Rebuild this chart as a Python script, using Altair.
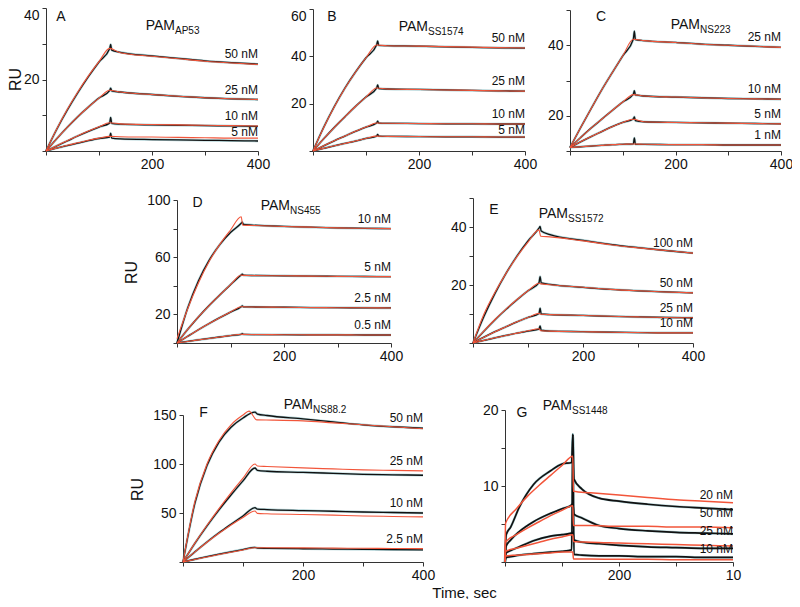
import altair as alt
import pandas as pd

# ---------------- time grids (s) ----------------
T_BLK = [0, 20, 40, 60, 80, 100, 120, 122, 124, 140, 200, 250, 300, 350, 400]
T_FIT = [0, 20, 40, 60, 80, 100, 120, 140, 200, 250, 300, 350, 400]
T_FIT_DE = [0, 20, 40, 60, 80, 100, 120, 123, 140, 200, 250, 300, 350, 400]
T_BLK_F = [0, 20, 40, 60, 80, 100, 120, 124, 140, 200, 250, 300, 350, 400]
T_FIT_F = [0, 20, 40, 60, 80, 100, 120, 124, 140, 200, 250, 300, 350, 400]
T_FIT_F50 = [0, 20, 40, 60, 80, 100, 110, 123, 150, 200, 250, 300, 350, 400]
T_BLK_G = [0, 2, 10, 25, 50, 80, 100, 117, 119, 121, 135, 165, 200, 250, 300, 350, 400]
T_FIT_G = [0, 1, 20, 40, 60, 80, 100, 119, 120, 150, 200, 250, 300, 350, 400]

# ---------------- Panel A: PAM AP53 ----------------
A_50_BLK = [0, 6.0, 11.4, 16.3, 20.8, 24.9, 28.6, 29.8, 28.2, 27.6, 26.6, 25.9, 25.2, 24.7, 24.3]
A_50_FIT = [0, 6.1, 11.6, 16.5, 21.0, 25.0, 28.7, 27.5, 26.5, 25.8, 25.1, 24.6, 24.2]
A_25_BLK = [0, 3.4, 6.6, 9.6, 12.3, 14.8, 16.9, 17.6, 16.8, 16.5, 15.8, 15.3, 14.9, 14.6, 14.4]
A_25_FIT = [0, 3.4, 6.6, 9.6, 12.3, 14.8, 17.0, 16.5, 15.8, 15.3, 14.9, 14.6, 14.4]
A_10_BLK = [0, 1.4, 2.8, 4.2, 5.5, 6.7, 7.8, 9.4, 7.7, 7.5, 7.3, 7.2, 7.1, 7.0, 6.9]
A_10_FIT = [0, 1.5, 2.9, 4.3, 5.6, 6.8, 7.9, 7.6, 7.4, 7.3, 7.2, 7.1, 7.0]
A_5_BLK = [0, 0.8, 1.5, 2.2, 2.9, 3.5, 3.9, 5.0, 3.6, 3.4, 3.2, 3.1, 3.0, 2.9, 2.8]
A_5_FIT = [0, 0.8, 1.6, 2.3, 3.0, 3.6, 4.1, 4.0, 3.9, 3.8, 3.7, 3.6, 3.6]

# ---------------- Panel B: PAM SS1574 ----------------
B_50_BLK = [0, 9.9, 18.7, 26.5, 33.3, 39.4, 44.8, 46.5, 44.6, 44.5, 44.3, 44.0, 43.8, 43.6, 43.5]
B_50_FIT = [0, 9.8, 18.6, 26.4, 33.3, 39.4, 44.8, 44.5, 44.3, 44.1, 43.9, 43.7, 43.5]
B_25_BLK = [0, 5.1, 9.9, 14.4, 18.8, 22.8, 26.6, 27.9, 26.4, 26.2, 26.0, 25.8, 25.6, 25.4, 25.3]
B_25_FIT = [0, 5.1, 9.9, 14.4, 18.8, 22.8, 26.6, 26.2, 26.0, 25.8, 25.6, 25.4, 25.3]
B_10_BLK = [0, 2.2, 4.3, 6.3, 8.3, 10.1, 11.8, 12.6, 11.8, 11.7, 11.6, 11.5, 11.5, 11.4, 11.4]
B_10_FIT = [0, 2.2, 4.3, 6.3, 8.3, 10.1, 11.8, 11.7, 11.6, 11.5, 11.5, 11.4, 11.4]
B_5_BLK = [0, 1.1, 2.2, 3.2, 4.2, 5.3, 6.3, 7.0, 6.3, 6.2, 6.1, 6.0, 6.0, 5.9, 5.9]
B_5_FIT = [0, 1.1, 2.2, 3.2, 4.2, 5.3, 6.3, 6.2, 6.1, 6.0, 6.0, 5.9, 5.9]

# ---------------- Panel C: PAM NS223 ----------------
C_25_BLK = [11, 16.6, 22.0, 27.3, 32.2, 37.0, 41.7, 44.0, 41.6, 41.3, 40.8, 40.3, 40.0, 39.7, 39.4]
C_25_FIT = [11, 16.6, 22.0, 27.3, 32.2, 37.0, 41.7, 41.3, 40.8, 40.3, 40.0, 39.7, 39.4]
C_10_BLK = [11, 13.8, 16.5, 19.0, 21.5, 23.9, 26.1, 27.1, 25.9, 25.6, 25.3, 25.1, 24.9, 24.8, 24.7]
C_10_FIT = [11, 13.8, 16.5, 19.0, 21.5, 23.9, 26.0, 25.6, 25.3, 25.1, 24.9, 24.8, 24.7]
C_5_BLK = [11, 12.6, 14.1, 15.5, 16.9, 18.1, 19.1, 19.7, 18.6, 18.3, 18.1, 18.0, 17.9, 17.8, 17.7]
C_5_FIT = [11, 12.6, 14.1, 15.5, 16.9, 18.1, 19.0, 18.3, 18.1, 18.0, 17.9, 17.8, 17.7]
C_1_BLK = [11, 11.2, 11.4, 11.6, 11.8, 11.9, 12.0, 13.7, 11.9, 11.9, 11.8, 11.8, 11.7, 11.7, 11.7]
C_1_FIT = [11, 11.2, 11.4, 11.6, 11.8, 11.9, 12.0, 11.9, 11.8, 11.8, 11.7, 11.7, 11.7]

# ---------------- Panel D: PAM NS455 ----------------
D_10_BLK = [0, 24.5, 43.4, 57.8, 68.8, 77.3, 83.7, 84.5, 83.0, 82.5, 81.5, 81.0, 80.5, 80.2, 80.0]
D_10_FIT = [3, 24, 42, 57, 69, 79, 88.3, 82.3, 82.2, 81.5, 81.0, 80.5, 80.2, 80.0]
D_5_BLK = [0, 9.5, 18.2, 26.2, 33.6, 40.8, 47.6, 48.2, 47.4, 47.2, 47.0, 46.8, 46.6, 46.5, 46.4]
D_5_FIT = [0, 9.5, 18.2, 26.2, 33.6, 40.8, 47.6, 47.3, 47.2, 47.0, 46.8, 46.6, 46.5, 46.4]
D_25_BLK = [0, 4.7, 9.3, 13.6, 17.7, 21.6, 25.4, 26.0, 25.3, 25.2, 25.0, 24.8, 24.7, 24.6, 24.5]
D_25_FIT = [0, 4.7, 9.3, 13.6, 17.7, 21.6, 25.4, 25.3, 25.2, 25.0, 24.8, 24.7, 24.6, 24.5]
D_05_BLK = [0, 1.1, 2.2, 3.2, 4.2, 5.2, 6.1, 6.6, 6.0, 5.9, 5.8, 5.7, 5.7, 5.6, 5.6]
D_05_FIT = [0, 1.1, 2.2, 3.2, 4.2, 5.2, 6.1, 6.0, 5.9, 5.8, 5.7, 5.7, 5.6, 5.6]

# ---------------- Panel E: PAM SS1572 ----------------
E_100_BLK = [0, 9.2, 17.1, 24.0, 30.0, 35.2, 39.6, 40.2, 38.6, 37.4, 35.4, 34.0, 32.9, 31.9, 31.0]
E_100_FIT = [0, 10.0, 17.5, 24.0, 29.8, 34.8, 39.0, 36.8, 36.6, 35.2, 33.9, 32.8, 31.9, 31.0]
E_50_BLK = [0, 4.1, 8.0, 11.6, 14.9, 18.0, 20.8, 22.9, 20.7, 20.2, 19.2, 18.5, 18.0, 17.6, 17.3]
E_50_FIT = [0, 4.2, 8.1, 11.7, 15.0, 18.0, 20.6, 20.4, 20.1, 19.2, 18.5, 18.0, 17.6, 17.3]
E_25_BLK = [0, 2.0, 3.9, 5.6, 7.3, 8.8, 10.2, 12.0, 10.0, 9.8, 9.5, 9.2, 9.0, 8.8, 8.7]
E_25_FIT = [0, 2.0, 3.9, 5.6, 7.3, 8.8, 10.2, 9.9, 9.8, 9.5, 9.2, 9.0, 8.8, 8.7]
E_10_BLK = [0, 0.9, 1.8, 2.6, 3.4, 4.1, 4.8, 5.9, 4.4, 4.1, 3.9, 3.7, 3.6, 3.5, 3.5]
E_10_FIT = [0, 0.9, 1.8, 2.6, 3.4, 4.2, 4.9, 4.2, 4.1, 3.9, 3.7, 3.6, 3.5, 3.5]

# ---------------- Panel F: PAM NS88.2 ----------------
F_50_BLK = [0, 60.4, 98.4, 122.4, 137.5, 147.0, 153.0, 151.0, 149.5, 146.0, 143.0, 140.0, 138.0, 136.5]
F_50_FIT = [0, 62.0, 100.0, 124.0, 140.0, 150.0, 154.0, 145.0, 144.8, 144.0, 142.0, 140.0, 138.0, 136.0]
F_25_BLK = [0, 19.2, 36.8, 53.2, 68.4, 82.8, 95.9, 93.5, 92.6, 91.5, 90.5, 89.5, 89.0, 88.5]
F_25_FIT = [0, 19.5, 37.5, 54.5, 70.5, 85.5, 100.0, 98.0, 97.5, 96.0, 95.0, 94.0, 93.5, 93.0]
F_10_BLK = [0, 10.5, 20.5, 29.8, 38.5, 47.0, 55.4, 54.0, 53.5, 52.5, 51.8, 51.0, 50.5, 50.0]
F_10_FIT = [0, 10.3, 20.1, 29.3, 37.8, 45.5, 52.0, 49.6, 49.2, 48.5, 47.8, 47.0, 46.5, 46.0]
F_25N_BLK = [0, 2.8, 5.5, 8.0, 10.4, 12.7, 14.9, 14.2, 14.0, 13.5, 13.2, 12.9, 12.6, 12.4]
F_25N_FIT = [0, 2.6, 5.1, 7.6, 10.0, 12.3, 14.5, 14.5, 14.5, 14.4, 14.2, 14.0, 13.8, 13.6]

# ---------------- Panel G: PAM SS1448 ----------------
G_20_BLK = [0, 3.6, 4.6, 7.2, 10.2, 12.0, 12.9, 13.1, 16.8, 10.9, 9.6, 8.4, 8.0, 7.6, 7.3, 7.1, 6.9]
G_20_FIT = [0, 5.1, 7.0, 8.7, 10.1, 11.4, 12.7, 13.9, 9.3, 9.1, 8.8, 8.5, 8.2, 8.0, 7.8]
G_50_BLK = [0, 2.1, 2.9, 4.0, 5.3, 6.4, 7.0, 7.5, 7.7, 6.3, 5.8, 4.8, 4.4, 4.1, 3.9, 3.8, 3.7]
G_50_FIT = [0, 2.6, 3.6, 4.5, 5.3, 6.1, 6.8, 7.4, 4.8, 4.8, 4.7, 4.7, 4.6, 4.6, 4.5]
G_25_BLK = [0, 1.2, 1.5, 2.0, 2.8, 3.4, 3.6, 3.8, 3.9, 2.9, 2.6, 2.4, 2.2, 2.0, 1.9, 1.8, 1.8]
G_25_FIT = [0, 1.4, 1.8, 2.2, 2.6, 3.0, 3.3, 3.6, 2.7, 2.6, 2.5, 2.4, 2.3, 2.2, 2.1]
G_10_BLK = [0, 0.6, 0.7, 0.9, 1.1, 1.3, 1.4, 1.6, 16.8, 1.0, 0.9, 0.8, 0.8, 0.7, 0.7, 0.6, 0.6]
G_10_FIT = [0, 0.8, 0.9, 1.0, 1.1, 1.2, 1.3, 1.3, 0.4, 0.4, 0.35, 0.35, 0.3, 0.3, 0.3]

CURVES = {
    "A": [("50 nM", T_BLK, A_50_BLK, T_FIT, A_50_FIT),
          ("25 nM", T_BLK, A_25_BLK, T_FIT, A_25_FIT),
          ("10 nM", T_BLK, A_10_BLK, T_FIT, A_10_FIT),
          ("5 nM", T_BLK, A_5_BLK, T_FIT, A_5_FIT)],
    "B": [("50 nM", T_BLK, B_50_BLK, T_FIT, B_50_FIT),
          ("25 nM", T_BLK, B_25_BLK, T_FIT, B_25_FIT),
          ("10 nM", T_BLK, B_10_BLK, T_FIT, B_10_FIT),
          ("5 nM", T_BLK, B_5_BLK, T_FIT, B_5_FIT)],
    "C": [("25 nM", T_BLK, C_25_BLK, T_FIT, C_25_FIT),
          ("10 nM", T_BLK, C_10_BLK, T_FIT, C_10_FIT),
          ("5 nM", T_BLK, C_5_BLK, T_FIT, C_5_FIT),
          ("1 nM", T_BLK, C_1_BLK, T_FIT, C_1_FIT)],
    "D": [("10 nM", T_BLK, D_10_BLK, T_FIT_DE, D_10_FIT),
          ("5 nM", T_BLK, D_5_BLK, T_FIT_DE, D_5_FIT),
          ("2.5 nM", T_BLK, D_25_BLK, T_FIT_DE, D_25_FIT),
          ("0.5 nM", T_BLK, D_05_BLK, T_FIT_DE, D_05_FIT)],
    "E": [("100 nM", T_BLK, E_100_BLK, T_FIT_DE, E_100_FIT),
          ("50 nM", T_BLK, E_50_BLK, T_FIT_DE, E_50_FIT),
          ("25 nM", T_BLK, E_25_BLK, T_FIT_DE, E_25_FIT),
          ("10 nM", T_BLK, E_10_BLK, T_FIT_DE, E_10_FIT)],
    "F": [("50 nM", T_BLK_F, F_50_BLK, T_FIT_F50, F_50_FIT),
          ("25 nM", T_BLK_F, F_25_BLK, T_FIT_F, F_25_FIT),
          ("10 nM", T_BLK_F, F_10_BLK, T_FIT_F, F_10_FIT),
          ("2.5 nM", T_BLK_F, F_25N_BLK, T_FIT_F, F_25N_FIT)],
    "G": [("20 nM", T_BLK_G, G_20_BLK, T_FIT_G, G_20_FIT),
          ("50 nM", T_BLK_G, G_50_BLK, T_FIT_G, G_50_FIT),
          ("25 nM", T_BLK_G, G_25_BLK, T_FIT_G, G_25_FIT),
          ("10 nM", T_BLK_G, G_10_BLK, T_FIT_G, G_10_FIT)],
}
# label heights (RU at 400 s) where they differ from the curve ends
LABEL_V = {("A", "5 nM"): 2.6, ("B", "5 nM"): 4.6,
           ("G", "20 nM"): 7.5, ("G", "50 nM"): 5.1, ("G", "25 nM"): 2.8, ("G", "10 nM"): 0.4}

# axis ticks / labels
X_TICKS = [0, 100, 200, 300, 400]
Y_TICKS = {"A": [0, 10, 20, 30, 40], "B": [0, 20, 40, 60], "C": [10, 20, 30, 40, 50],
           "D": [0, 20, 40, 60, 80, 100], "E": [0, 10, 20, 30, 40, 50],
           "F": [0, 50, 100, 150], "G": [0, 5, 10, 15, 20]}
Y_LABELS = {"A": [20, 40], "B": [20, 40, 60], "C": [20, 40], "D": [20, 60, 100],
            "E": [20, 40], "F": [50, 100, 150], "G": [10, 20]}
Y_DOMAIN = {"A": [0, 40], "B": [0, 60], "C": [10, 50], "D": [0, 100], "E": [0, 50],
            "F": [0, 150], "G": [0, 20]}
SUBSCRIPTS = {"A": "AP53", "B": "SS1574", "C": "NS223", "D": "NS455", "E": "SS1572",
              "F": "NS88.2", "G": "SS1448"}

# ---------------- layout (page pixels) ----------------
M = 8
W, H = 784, 591
GEOM = {  # x pixel range of 0..400 s, y pixel range (bottom, top)
    "A": ([46, 258], [151, 8]),
    "B": ([313, 525], [151, 9]),
    "C": ([570, 781], [151, 10]),
    "D": ([177, 391], [343, 200]),
    "E": ([473, 693], [343, 198]),
    "F": ([183, 423], [562, 415]),
    "G": ([505, 733], [562, 410]),
}
TOP_LABEL = {"A": 40, "B": 60}
LETTER_POS = {"A": (61, 21), "B": (332, 21), "C": (601, 21), "D": (197.5, 206.5),
              "E": (494, 214), "F": (203.5, 416.5), "G": (522, 417)}
PAM_POS = {"A": (175, 29.5), "B": (428, 31), "C": (700, 28.5), "D": (290, 210),
           "E": (568, 218), "F": (313, 409), "G": (572, 410)}
RU_POS = {"A": (20, 79), "D": (136.5, 272), "F": (142.5, 489)}
TIME_POS = (464, 597)

FONT = "Liberation Sans"
BLACK = "#111111"
TEAL = "#4d9ba3"
RED = "#f2553a"


def panel(key):
    (xa, xb), (yb, yt) = GEOM[key]
    rows, labs = [], []
    for conc, tb, vb, tf, vf in CURVES[key]:
        rows += [{"t": t, "v": v, "conc": conc, "kind": "blk"} for t, v in zip(tb, vb)]
        rows += [{"t": t, "v": v, "conc": conc, "kind": "fit"} for t, v in zip(tf, vf)]
        lv = LABEL_V.get((key, conc), max(vb[-1], vf[-1]))
        labs.append({"t": 400, "v": lv, "conc": conc})
    df = pd.DataFrame(rows)
    ldf = pd.DataFrame(labs)

    if key == "G":
        xexpr = "datum.value == 200 ? '200' : datum.value == 400 ? '10' : ''"
    else:
        xexpr = "datum.value == 200 || datum.value == 400 ? datum.label : ''"
    xkw = dict(orient="bottom", offset=(yb - M) - H, values=X_TICKS, labelExpr=xexpr,
               labelOverlap=False, labelFlush=False, tickSize=4, labelPadding=2,
               title=None)
    if key == "F":
        xkw.update(title="Time, sec", titleX=TIME_POS[0] - M, titleY=TIME_POS[1] - yb,
                   titleBaseline="alphabetic", titleFontSize=15, titleFont=FONT,
                   titleFontWeight="normal", titleColor="#111", titleAnchor="middle")
    ykw = dict(orient="left", offset=-(xa - M), values=Y_TICKS[key],
               labelExpr=f"indexof({Y_LABELS[key]}, datum.value) >= 0 ? datum.label : ''",
               labelOverlap=False, labelFlush=False, tickSize=4, labelPadding=3,
               title=None)
    if key in TOP_LABEL:
        ykw["labelBaseline"] = {"condition": {"test": f"datum.value == {TOP_LABEL[key]}",
                                              "value": "top"}, "value": "middle"}
    if key in RU_POS:
        rx, ry = RU_POS[key]
        ykw.update(title="RU", titleX=rx - xa, titleY=ry - M, titleAngle=270,
                   titleBaseline="alphabetic", titleAlign="center", titleFontSize=16,
                   titleFont=FONT, titleFontWeight="normal", titleColor="#111")

    x = alt.X("t:Q", scale=alt.Scale(domain=[0, 400], range=[xa - M, xb - M], nice=False, zero=False),
              axis=alt.Axis(**xkw))
    y = alt.Y("v:Q", scale=alt.Scale(domain=Y_DOMAIN[key], range=[yb - M, yt - M], nice=False, zero=False),
              axis=alt.Axis(**ykw))

    base = alt.Chart(df).encode(x=x, y=y, detail="conc:N")
    blk = base.transform_filter(alt.datum.kind == "blk")
    fit = base.transform_filter(alt.datum.kind == "fit")
    wide = 1.7 if key == "G" else 1.3
    halo = blk.mark_line(color=TEAL, strokeWidth=2.5, opacity=0.45, interpolate="monotone")
    black = blk.mark_line(color=BLACK, strokeWidth=wide, interpolate="monotone")
    red = fit.mark_line(color=RED, strokeWidth=1.5 if key == "G" else 1.1, interpolate="monotone")
    text = alt.Chart(ldf).mark_text(align="right", baseline="alphabetic", dy=-6, font=FONT,
                                    fontSize=12, color="#111").encode(x=x, y=y, text="conc:N")
    return alt.layer(halo, black, red, text)


panels = [panel(k) for k in "ABCDEFG"]

ann_letters = pd.DataFrame([{"s": k, "px": LETTER_POS[k][0] - M, "py": LETTER_POS[k][1] - M} for k in "ABCDEFG"])
ann_pam = pd.DataFrame([{"s": "PAM", "px": PAM_POS[k][0] - M, "py": PAM_POS[k][1] - M} for k in "ABCDEFG"])
ann_sub = pd.DataFrame([{"s": SUBSCRIPTS[k], "px": PAM_POS[k][0] - M, "py": PAM_POS[k][1] - M + 4} for k in "ABCDEFG"])


def ann(df, **kw):
    return alt.Chart(df).mark_text(font=FONT, color="#111", **kw).encode(
        x=alt.X("px:Q", scale=None, axis=None), y=alt.Y("py:Q", scale=None, axis=None), text="s:N")


letters = ann(ann_letters, align="center", baseline="alphabetic", fontSize=14)
pams = ann(ann_pam, align="right", baseline="alphabetic", fontSize=14)
subs = ann(ann_sub, align="left", baseline="alphabetic", fontSize=10)

chart = alt.layer(*panels, letters, pams, subs).resolve_scale(
    x="independent", y="independent"
).properties(
    width=W, height=H, padding=0, autosize=alt.AutoSizeParams(type="none")
).configure_view(stroke=None).configure_axis(
    grid=False, domainColor="#333", tickColor="#333", labelFont=FONT, labelFontSize=14,
    labelColor="#111", domainWidth=1, tickWidth=1
)

chart.save("out.html", embed_options={"renderer": "svg", "actions": False})
